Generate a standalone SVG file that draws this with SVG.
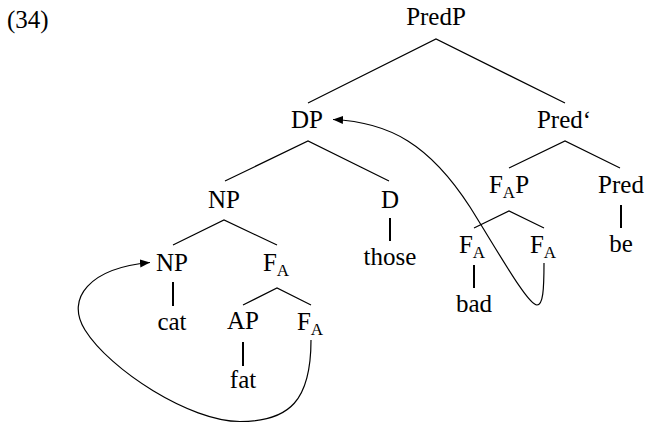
<svg xmlns="http://www.w3.org/2000/svg" width="649" height="423" viewBox="0 0 649 423">
<style>
text{font-family:"Liberation Serif","DejaVu Serif","Noto Serif","FreeSerif","Tinos","Times New Roman",Times,serif;font-size:25px;fill:#000;text-anchor:middle}
.sub{font-size:17px}
.e{stroke:#000;stroke-width:1.2;fill:none}
.v{stroke:#000;stroke-width:2;fill:none}
.c{stroke:#000;stroke-width:1.2;fill:none;marker-end:url(#arr)}
</style>
<defs>
<marker id="arr" markerWidth="12" markerHeight="10" refX="10" refY="5" orient="auto" markerUnits="userSpaceOnUse">
<path d="M0,1 L10,5 L0,9 Z" fill="#000"/>
</marker>
</defs>
<text x="7" y="28" style="text-anchor:start">(34)</text>
<g id="PredP"><text x="436" y="25">PredP</text></g>
<g id="DP"><text x="307" y="128">DP</text></g>
<g id="Predbar"><text x="564" y="128">Pred‘</text></g>
<g id="FAP"><text x="509" y="193">F<tspan class="sub" dy="5">A</tspan><tspan dy="-5">P</tspan></text></g>
<g id="Pred"><text x="621" y="193">Pred</text></g>
<g id="NP1"><text x="224" y="208">NP</text></g>
<g id="D"><text x="390" y="208">D</text></g>
<g id="those"><text x="390" y="265">those</text></g>
<g id="FA_bad"><text x="472" y="253">F<tspan class="sub" dy="5">A</tspan></text></g>
<g id="FA_r"><text x="543" y="253">F<tspan class="sub" dy="5">A</tspan></text></g>
<g id="be"><text x="621" y="252">be</text></g>
<g id="bad"><text x="474" y="312">bad</text></g>
<g id="NP2"><text x="172" y="271">NP</text></g>
<g id="FA1"><text x="276" y="271">F<tspan class="sub" dy="5">A</tspan></text></g>
<g id="cat"><text x="172" y="330">cat</text></g>
<g id="AP"><text x="243" y="329">AP</text></g>
<g id="FA2"><text x="310" y="330">F<tspan class="sub" dy="5">A</tspan></text></g>
<g id="fat"><text x="243" y="388">fat</text></g>
<g id="connectors">
<path class="e" d="M308,103 L436,39 L565,103"/>
<path class="e" d="M225,181 L308,141 L389,181"/>
<path class="e" d="M509,168 L565,141 L620,168"/>
<path class="e" d="M173,245 L224,220 L277,245"/>
<path class="e" d="M474,228 L509,211 L544,228"/>
<path class="e" d="M243,305 L277,288 L311,305"/>
<path class="v" d="M390,218 L390,241"/>
<path class="v" d="M621,205 L621,228"/>
<path class="v" d="M474,265 L474,288"/>
<path class="v" d="M173,282 L173,306"/>
<path class="v" d="M243,342 L243,366"/>
<path class="c" d="M544,263 C544,290 543,305 537,305 C528,305 500,255 470,207 C430,145 390,122 333,119.5"/>
<path class="c" d="M311,340 C311,400 290,421.5 240,421.5 C190,421.5 110,370 85,330 C65,298 90,268 150,262.5"/>
</g>
</svg>
